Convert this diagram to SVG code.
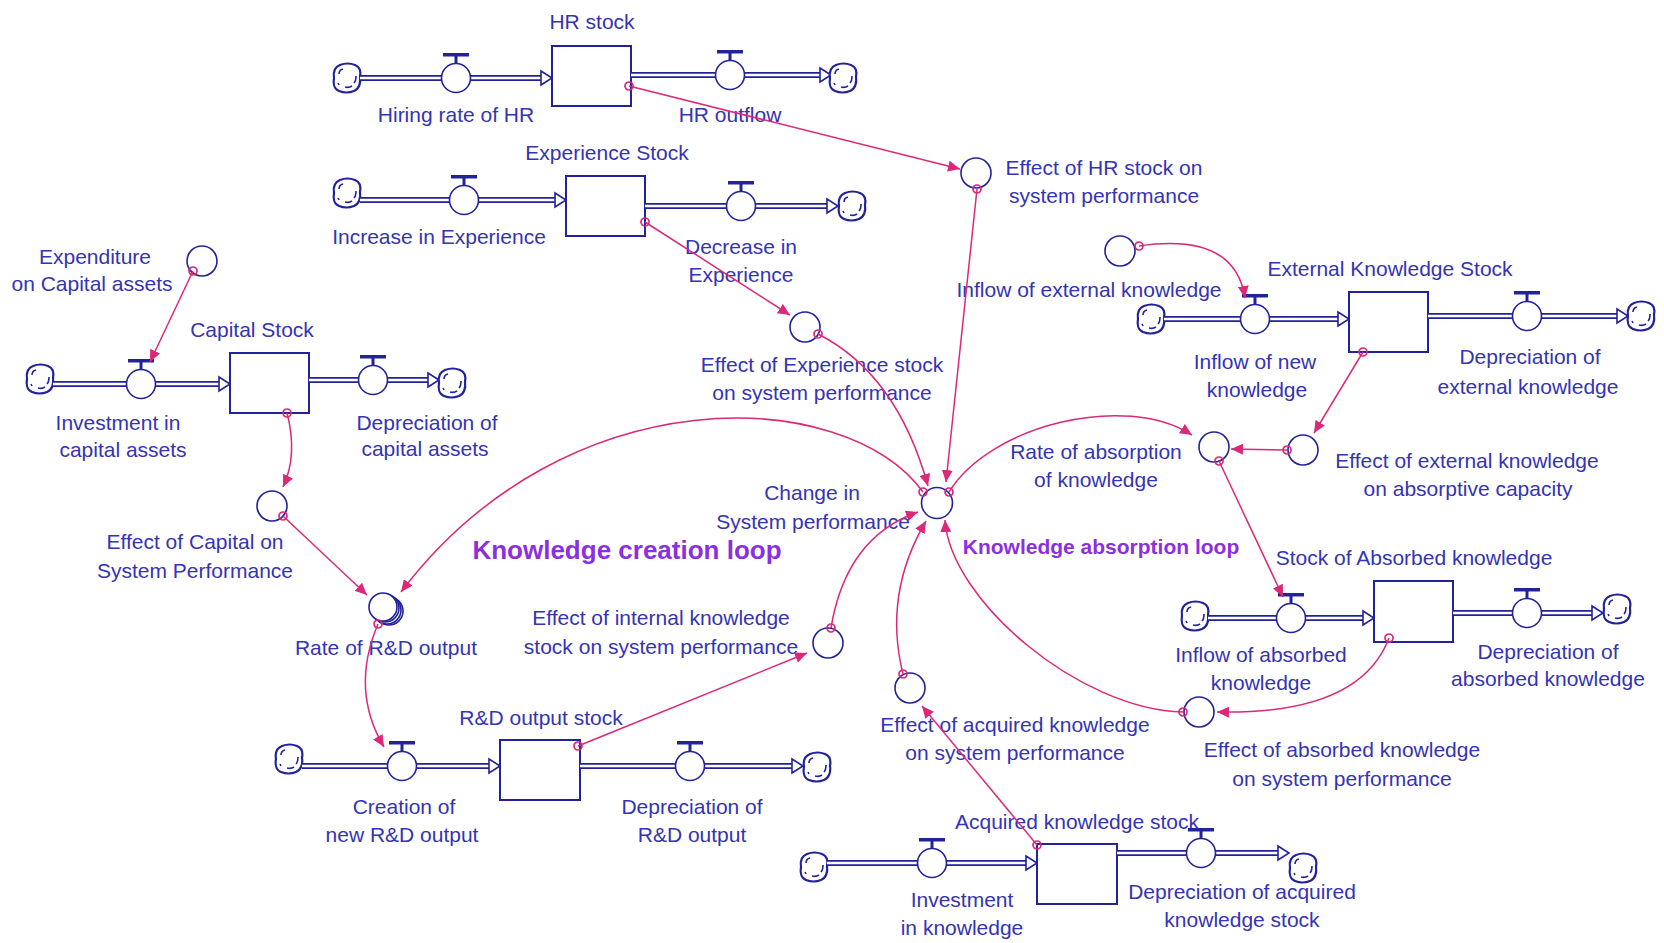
<svg xmlns="http://www.w3.org/2000/svg" xmlns:xlink="http://www.w3.org/1999/xlink" width="1664" height="943" viewBox="0 0 1664 943">
<style>
.t{font-family:"Liberation Sans",Arial,sans-serif;font-size:21px;fill:#3434b4;text-anchor:middle}
.loop{font-family:"Liberation Sans",Arial,sans-serif;font-weight:bold;fill:#8c2fe0;text-anchor:middle}
.stock{fill:#fff;stroke:#22229a;stroke-width:2}
.po{fill:none;stroke:#22229a;stroke-width:6}
.pi{fill:none;stroke:#fff;stroke-width:2.6}
.pa{fill:#fff;stroke:#22229a;stroke-width:1.6}
.aux{fill:#fff;stroke:#22229a;stroke-width:1.6}
.link{fill:none;stroke:#dc2878;stroke-width:1.5;marker-start:url(#o);marker-end:url(#a)}
</style>
<defs>
<marker id="a" markerWidth="13" markerHeight="11" refX="12" refY="5.5" orient="auto" markerUnits="userSpaceOnUse"><path d="M0,0 L12,5.5 L0,11 Z" fill="#dc2878"/></marker>
<marker id="o" markerWidth="12" markerHeight="12" refX="6" refY="6" markerUnits="userSpaceOnUse"><circle cx="6" cy="6" r="4" fill="none" stroke="#dc2878" stroke-width="1.7"/></marker>
<g id="valve"><path d="M0,-14 V-22" stroke="#22229a" stroke-width="3"/><rect x="-13" y="-25" width="26" height="3.5" fill="#22229a"/><circle r="14.5" class="aux"/></g>
<g id="cloud"><path d="M-7,-13 C-2,-15 3,-15 8,-13 C13,-11 14,-6 13,-1 C14,5 12,11 7,13 C2,15 -3,15 -8,13 C-13,11 -14,5 -13,0 C-14,-6 -12,-11 -7,-13 Z" fill="#fff" stroke="#22229a" stroke-width="2.2"/><path d="M-8,-4 Q-8,-8 -4,-9 M9,-2 Q9,3 7,5 M-2,9 Q2,10 5,8 M-9,5 L-8,7" fill="none" stroke="#22229a" stroke-width="1.6"/></g>
</defs>
<rect width="1664" height="943" fill="#fff"/>

<!-- HR stock chain -->
<g id="cloud-hr-in"><use href="#cloud" x="347" y="78"/></g>
<g id="flow-hiring">
<path class="po" d="M360,78 H541"/><path class="pi" d="M360,78 H541"/>
<path class="pa" d="M541,71 L552,78 L541,85 Z"/>
<use href="#valve" x="456" y="78"/>
<text class="t" x="456" y="122">Hiring rate of HR</text>
</g>
<g id="stock-hr">
<rect class="stock" x="552" y="46" width="79" height="60"/>
<text class="t" x="592" y="29">HR stock</text>
</g>
<g id="flow-hr-out">
<path class="po" d="M631,75 H820"/><path class="pi" d="M631,75 H820"/>
<path class="pa" d="M820,68 L831,75 L820,82 Z"/>
<use href="#valve" x="730" y="75"/>
<text class="t" x="730" y="122">HR outflow</text>
</g>
<g id="cloud-hr-out"><use href="#cloud" x="843" y="78"/></g>

<!-- Experience chain -->
<g id="cloud-exp-in"><use href="#cloud" x="347" y="193"/></g>
<g id="flow-exp-in">
<path class="po" d="M360,200 H555"/><path class="pi" d="M360,200 H555"/>
<path class="pa" d="M555,193 L566,200 L555,207 Z"/>
<use href="#valve" x="464" y="200"/>
<text class="t" x="439" y="244">Increase in Experience</text>
</g>
<g id="stock-exp">
<rect class="stock" x="566" y="176" width="79" height="60"/>
<text class="t" x="607" y="160">Experience Stock</text>
</g>
<g id="flow-exp-out">
<path class="po" d="M645,206 H827"/><path class="pi" d="M645,206 H827"/>
<path class="pa" d="M827,199 L838,206 L827,213 Z"/>
<use href="#valve" x="741" y="206"/>
<text class="t" x="741" y="254">Decrease in</text>
<text class="t" x="741" y="282">Experience</text>
</g>
<g id="cloud-exp-out"><use href="#cloud" x="852" y="206"/></g>

<!-- Capital chain -->
<g id="aux-expenditure">
<circle class="aux" cx="202" cy="261" r="15"/>
<text class="t" x="95" y="264">Expenditure</text>
<text class="t" x="92" y="291">on Capital assets</text>
</g>
<g id="cloud-cap-in"><use href="#cloud" x="40" y="379"/></g>
<g id="flow-cap-in">
<path class="po" d="M53,384 H219"/><path class="pi" d="M53,384 H219"/>
<path class="pa" d="M219,377 L230,384 L219,391 Z"/>
<use href="#valve" x="141" y="384"/>
<text class="t" x="118" y="430">Investment in</text>
<text class="t" x="123" y="457">capital assets</text>
</g>
<g id="stock-capital">
<rect class="stock" x="230" y="353" width="79" height="60"/>
<text class="t" x="252" y="337">Capital Stock</text>
</g>
<g id="flow-cap-out">
<path class="po" d="M309,380 H428"/><path class="pi" d="M309,380 H428"/>
<path class="pa" d="M428,373 L439,380 L428,387 Z"/>
<use href="#valve" x="373" y="380"/>
<text class="t" x="427" y="430">Depreciation of</text>
<text class="t" x="425" y="456">capital assets</text>
</g>
<g id="cloud-cap-out"><use href="#cloud" x="452" y="383"/></g>
<g id="aux-effect-capital">
<circle class="aux" cx="272" cy="506" r="15"/>
<text class="t" x="195" y="549">Effect of Capital on</text>
<text class="t" x="195" y="578">System Performance</text>
</g>
<g id="aux-rate-rd">
<circle class="aux" cx="389" cy="611" r="14"/>
<circle class="aux" cx="387" cy="610" r="14"/>
<circle class="aux" cx="385" cy="608" r="14"/>
<circle class="aux" cx="383" cy="607" r="14"/>
<text class="t" x="386" y="655">Rate of R&amp;D output</text>
</g>

<!-- R&D chain -->
<g id="cloud-rd-in"><use href="#cloud" x="289" y="759"/></g>
<g id="flow-rd-in">
<path class="po" d="M302,766 H489"/><path class="pi" d="M302,766 H489"/>
<path class="pa" d="M489,759 L500,766 L489,773 Z"/>
<use href="#valve" x="402" y="766"/>
<text class="t" x="404" y="814">Creation of</text>
<text class="t" x="402" y="842">new R&amp;D output</text>
</g>
<g id="stock-rd">
<rect class="stock" x="500" y="740" width="80" height="60"/>
<text class="t" x="541" y="725">R&amp;D output stock</text>
</g>
<g id="flow-rd-out">
<path class="po" d="M580,766 H792"/><path class="pi" d="M580,766 H792"/>
<path class="pa" d="M792,759 L803,766 L792,773 Z"/>
<use href="#valve" x="690" y="766"/>
<text class="t" x="692" y="814">Depreciation of</text>
<text class="t" x="692" y="842">R&amp;D output</text>
</g>
<g id="cloud-rd-out"><use href="#cloud" x="817" y="767"/></g>
<g id="aux-effect-internal">
<circle class="aux" cx="828" cy="643" r="15"/>
<text class="t" x="661" y="625">Effect of internal knowledge</text>
<text class="t" x="661" y="654">stock on system performance</text>
</g>

<!-- central -->
<g id="aux-effect-hr">
<circle class="aux" cx="976" cy="173" r="15"/>
<text class="t" x="1104" y="175">Effect of HR stock on</text>
<text class="t" x="1104" y="203">system performance</text>
</g>
<g id="aux-effect-exp">
<circle class="aux" cx="805" cy="327" r="15"/>
<text class="t" x="822" y="372">Effect of Experience stock</text>
<text class="t" x="822" y="400">on system performance</text>
</g>
<g id="aux-change">
<circle class="aux" cx="937" cy="503" r="15.5"/>
<text class="t" x="812" y="500">Change in</text>
<text class="t" x="813" y="529">System performance</text>
</g>
<g id="loop-creation"><text class="loop" x="627" y="559" font-size="26">Knowledge creation loop</text></g>
<g id="loop-absorption"><text class="loop" x="1101" y="554" font-size="21">Knowledge absorption loop</text></g>

<!-- External knowledge chain -->
<g id="aux-inflow-ext">
<circle class="aux" cx="1120" cy="251" r="15"/>
<text class="t" x="1089" y="297">Inflow of external knowledge</text>
</g>
<g id="cloud-ext-in"><use href="#cloud" x="1151" y="319"/></g>
<g id="flow-ext-in">
<path class="po" d="M1164,319 H1338"/><path class="pi" d="M1164,319 H1338"/>
<path class="pa" d="M1338,312 L1349,319 L1338,326 Z"/>
<use href="#valve" x="1255" y="319"/>
<text class="t" x="1255" y="369">Inflow of new</text>
<text class="t" x="1257" y="397">knowledge</text>
</g>
<g id="stock-ext">
<rect class="stock" x="1349" y="292" width="79" height="60"/>
<text class="t" x="1390" y="276">External Knowledge Stock</text>
</g>
<g id="flow-ext-out">
<path class="po" d="M1428,316 H1617"/><path class="pi" d="M1428,316 H1617"/>
<path class="pa" d="M1617,309 L1628,316 L1617,323 Z"/>
<use href="#valve" x="1527" y="316"/>
<text class="t" x="1530" y="364">Depreciation of</text>
<text class="t" x="1528" y="394">external knowledge</text>
</g>
<g id="cloud-ext-out"><use href="#cloud" x="1641" y="316"/></g>
<g id="aux-effect-ext">
<circle class="aux" cx="1303" cy="450" r="15"/>
<text class="t" x="1467" y="468">Effect of external knowledge</text>
<text class="t" x="1468" y="496">on absorptive capacity</text>
</g>
<g id="aux-rate-absorption">
<circle class="aux" cx="1214" cy="447" r="15"/>
<text class="t" x="1096" y="459">Rate of absorption</text>
<text class="t" x="1096" y="487">of knowledge</text>
</g>

<!-- Absorbed chain -->
<g id="cloud-abs-in"><use href="#cloud" x="1195" y="616"/></g>
<g id="flow-abs-in">
<path class="po" d="M1208,618 H1363"/><path class="pi" d="M1208,618 H1363"/>
<path class="pa" d="M1363,611 L1374,618 L1363,625 Z"/>
<use href="#valve" x="1291" y="618"/>
<text class="t" x="1261" y="662">Inflow of absorbed</text>
<text class="t" x="1261" y="690">knowledge</text>
</g>
<g id="stock-absorbed">
<rect class="stock" x="1374" y="581" width="79" height="61"/>
<text class="t" x="1414" y="565">Stock of Absorbed knowledge</text>
</g>
<g id="flow-abs-out">
<path class="po" d="M1453,613 H1592"/><path class="pi" d="M1453,613 H1592"/>
<path class="pa" d="M1592,606 L1603,613 L1592,620 Z"/>
<use href="#valve" x="1527" y="613"/>
<text class="t" x="1548" y="659">Depreciation of</text>
<text class="t" x="1548" y="686">absorbed knowledge</text>
</g>
<g id="cloud-abs-out"><use href="#cloud" x="1617" y="609"/></g>
<g id="aux-effect-absorbed">
<circle class="aux" cx="1199" cy="712" r="15"/>
<text class="t" x="1342" y="757">Effect of absorbed knowledge</text>
<text class="t" x="1342" y="786">on system performance</text>
</g>

<!-- Acquired chain -->
<g id="aux-effect-acquired">
<circle class="aux" cx="910" cy="688" r="15"/>
<text class="t" x="1015" y="732">Effect of acquired knowledge</text>
<text class="t" x="1015" y="760">on system performance</text>
</g>
<g id="cloud-acq-in"><use href="#cloud" x="814" y="867"/></g>
<g id="flow-acq-in">
<path class="po" d="M827,863 H1026"/><path class="pi" d="M827,863 H1026"/>
<path class="pa" d="M1026,856 L1037,863 L1026,870 Z"/>
<use href="#valve" x="932" y="863"/>
<text class="t" x="962" y="907">Investment</text>
<text class="t" x="962" y="935">in knowledge</text>
</g>
<g id="stock-acquired">
<rect class="stock" x="1037" y="844" width="80" height="60"/>
<text class="t" x="1077" y="829">Acquired knowledge stock</text>
</g>
<g id="flow-acq-out">
<path class="po" d="M1117,853 H1278"/><path class="pi" d="M1117,853 H1278"/>
<path class="pa" d="M1278,846 L1289,853 L1278,860 Z"/>
<use href="#valve" x="1201" y="853"/>
<text class="t" x="1242" y="899">Depreciation of acquired</text>
<text class="t" x="1242" y="927">knowledge stock</text>
</g>
<g id="cloud-acq-out"><use href="#cloud" x="1303" y="868"/></g>

<!-- connectors (drawn on top, as in the reference) -->
<g id="connectors">
<path class="link" d="M629,86 L960,169"/>
<path class="link" d="M645,222 L790,315"/>
<path class="link" d="M977,189 L946,482"/>
<path class="link" d="M818,334 Q897,374 928,486"/>
<path class="link" d="M923,492 C845,385 565,375 401,592"/>
<path class="link" d="M949,492 C990,425 1125,392 1192,435"/>
<path class="link" d="M831,628 Q846,537 918,512"/>
<path class="link" d="M903,674 Q883,594 926,521"/>
<path class="link" d="M1183,712 C1080,710 950,600 945,520"/>
<path class="link" d="M1389,638 Q1360,715 1217,712"/>
<path class="link" d="M287,413 Q298,455 283,487"/>
<path class="link" d="M283,516 L367,595"/>
<path class="link" d="M193,271 L150,362"/>
<path class="link" d="M378,624 Q350,690 384,747"/>
<path class="link" d="M578,746 L807,653"/>
<path class="link" d="M1037,845 L922,706"/>
<path class="link" d="M1139,246 Q1235,232 1245,298"/>
<path class="link" d="M1363,352 L1314,433"/>
<path class="link" d="M1287,450 L1231,449"/>
<path class="link" d="M1219,461 L1283,597"/>
</g>
</svg>
